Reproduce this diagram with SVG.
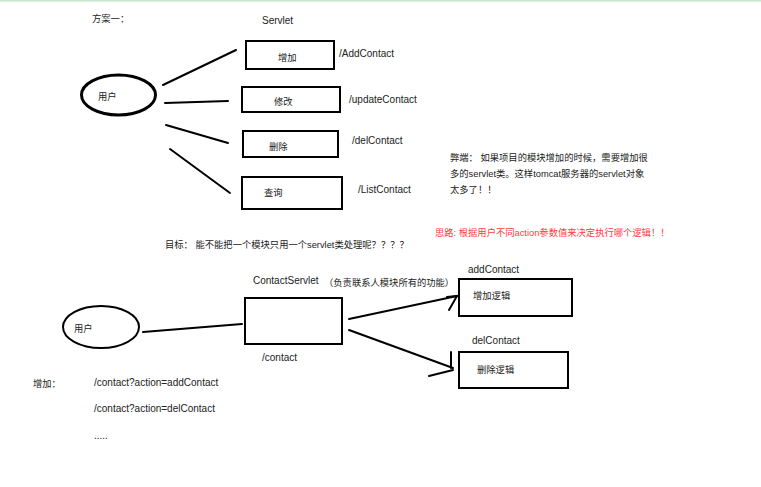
<svg xmlns="http://www.w3.org/2000/svg" width="761" height="487" viewBox="0 0 761 487">
<style>
text{font-family:"Liberation Sans","Noto Sans CJK SC",sans-serif;font-size:10px;fill:#222}
.cj{font-size:9.3px}
.box{fill:#fff;stroke:#000;stroke-width:2}
.ln{fill:none;stroke:#000;stroke-width:2;stroke-linecap:round}
.red{fill:#ff3b3b}
</style>
<rect width="761" height="487" fill="#fff"/>
<line x1="0" y1="0.8" x2="761" y2="0.8" stroke="#c8e6c9" stroke-width="1.6"/>
<text class="cj" x="92" y="22">方案一：</text>
<text x="262" y="24">Servlet</text>
<g id="connectors">
<line class="ln" x1="163" y1="85" x2="236" y2="50"/>
<line class="ln" x1="165" y1="103" x2="228" y2="101"/>
<line class="ln" x1="166" y1="125" x2="228" y2="143"/>
<line class="ln" x1="170" y1="149" x2="230" y2="193"/>
<line class="ln" x1="143" y1="332" x2="242" y2="324"/>
<polyline class="ln" points="349,319 457,296"/>
<polyline class="ln" points="447,297 457,296 449,310"/>
<polyline class="ln" points="349,330 453,368"/>
<polyline class="ln" points="451,352 451,368"/>
<polyline class="ln" points="429,376 453,370"/>
</g>
<g id="user1">
<ellipse cx="118.5" cy="95" rx="37" ry="20" fill="#fff" stroke="#000" stroke-width="3"/>
<text class="cj" x="98" y="100">用户</text>
</g>
<g id="add">
<rect class="box" x="246" y="41" width="88" height="28"/>
<text class="cj" x="278" y="61">增加</text>
<text x="339" y="56.5">/AddContact</text>
</g>
<g id="update">
<rect class="box" x="242" y="87" width="98" height="25"/>
<text class="cj" x="274" y="105">修改</text>
<text x="349" y="102.5">/updateContact</text>
</g>
<g id="del">
<rect class="box" x="243" y="131" width="95" height="26"/>
<text class="cj" x="269" y="150">删除</text>
<text x="352" y="143.5">/delContact</text>
</g>
<g id="list">
<rect class="box" x="242" y="177" width="100" height="32"/>
<text class="cj" x="264" y="196">查询</text>
<text x="358" y="192.5">/ListContact</text>
</g>
<g id="notes">
<text class="cj" x="450" y="160.5">弊端： 如果项目的模块增加的时候，需要增加很</text>
<text class="cj" x="450" y="176.5">多的servlet类。这样tomcat服务器的servlet对象</text>
<text class="cj" x="450" y="192.5">太多了！！</text>
<text class="cj red" x="435" y="235.5">思路: 根据用户不同action参数值来决定执行哪个逻辑！！</text>
<text class="cj" x="165" y="247.5">目标： 能不能把一个模块只用一个servlet类处理呢？？？？</text>
</g>
<g id="user2">
<ellipse cx="101" cy="327" rx="38" ry="21" fill="#fff" stroke="#000" stroke-width="2"/>
<text class="cj" x="74" y="332">用户</text>
</g>
<g id="contactServlet">
<text x="253" y="283.5">ContactServlet</text>
<text class="cj" x="324" y="285.5">（负责联系人模块所有的功能）</text>
<rect class="box" x="245" y="298" width="97" height="46"/>
<text x="262" y="360.5">/contact</text>
</g>
<g id="addContact">
<text x="468" y="272.5">addContact</text>
<rect class="box" x="459" y="279" width="113" height="37"/>
<text class="cj" x="473" y="299">增加逻辑</text>
</g>
<g id="delContact">
<text x="472" y="343.5">delContact</text>
<rect class="box" x="459" y="352" width="109" height="36"/>
<text class="cj" x="477" y="373">删除逻辑</text>
</g>
<g id="urls">
<text class="cj" x="33" y="387">增加：</text>
<text x="94" y="385.5">/contact?action=addContact</text>
<text x="94" y="411.5">/contact?action=delContact</text>
<text x="94" y="439">.....</text>
</g>
</svg>
